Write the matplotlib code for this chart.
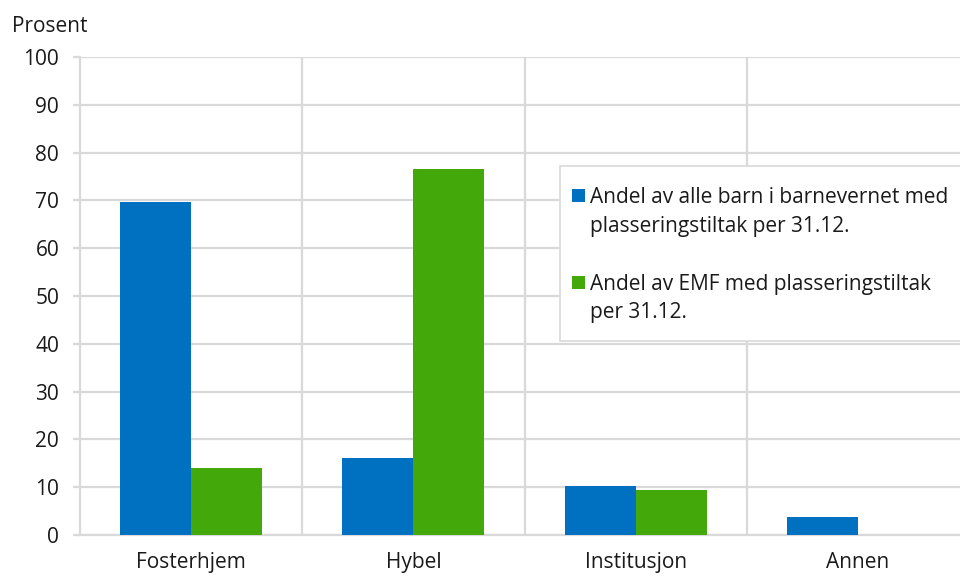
import matplotlib
matplotlib.use("Agg")
import matplotlib.pyplot as plt
from matplotlib.patches import Rectangle
import numpy as np

plt.rcParams['font.family'] = ['Open Sans', 'DejaVu Sans']

categories = ['Fosterhjem', 'Hybel', 'Institusjon', 'Annen']
alle_barn = [69.7, 16.1, 10.3, 3.7]
emf = [14.0, 76.5, 9.4, 0.0]
series_labels = [['Andel av alle barn i barnevernet med', 'plasseringstiltak per 31.12.'],
                 ['Andel av EMF med plasseringstiltak', 'per 31.12.']]
y_ticks = [0, 10, 20, 30, 40, 50, 60, 70, 80, 90, 100]

BLUE = '#0070c0'
GREEN = '#43a809'
GRID = '#d9d9d9'
TXT = '#1a1a1a'
FS = 15

W, H = 960, 576
fig = plt.figure(figsize=(W / 100, H / 100), dpi=100)

# plot area in pixels (right edge runs past the canvas, as in the reference)
left, right, top, bottom = 80, 969, 57, 535
ax = fig.add_axes([left / W, 1 - bottom / H, (right - left) / W, (bottom - top) / H])

x = np.arange(len(categories))
bw = 0.32
ax.bar(x - bw / 2, alle_barn, bw, color=BLUE, zorder=3)
ax.bar(x + bw / 2, emf, bw, color=GREEN, zorder=3)

ax.set_xlim(-0.5, len(categories) - 0.5)
ax.set_ylim(0, 100)
ax.set_yticks(y_ticks)
ax.set_xticks(x)
ax.set_xticklabels(categories)

ax.yaxis.grid(True, color=GRID, linewidth=1.6, zorder=0)
for xv in np.arange(0.5, len(categories), 1.0):
    ax.axvline(xv, color=GRID, linewidth=1.6, zorder=0)

for s in ['top', 'right']:
    ax.spines[s].set_visible(False)
for s in ['left', 'bottom']:
    ax.spines[s].set_color(GRID)
    ax.spines[s].set_linewidth(1.6)
    ax.spines[s].set_zorder(1)

ax.tick_params(axis='y', length=5, width=1.6, color=GRID, pad=10,
               labelsize=FS, labelcolor=TXT)
ax.tick_params(axis='x', length=0, pad=12, labelsize=FS, labelcolor=TXT)

fig.text(12 / W, 1 - 32 / H, 'Prosent', fontsize=FS, color=TXT,
         ha='left', va='baseline')

# legend box, drawn by hand so the squares line up with the first text line
def px(xp, yp):
    return xp / W, 1 - yp / H

lx0, ly0, lx1, ly1 = 560, 166, 975, 341
bx, by = px(lx0, ly1)
fig.patches.append(Rectangle((bx, by), (lx1 - lx0) / W, (ly1 - ly0) / H,
                             transform=fig.transFigure, facecolor='white',
                             edgecolor=GRID, linewidth=1.2, zorder=5))
for col, lines, ytop, bases in [(BLUE, series_labels[0], 189, (203, 232)),
                                (GREEN, series_labels[1], 276, (290, 318))]:
    sx, sy = px(572, ytop + 13)
    fig.patches.append(Rectangle((sx, sy), 13 / W, 13 / H,
                                 transform=fig.transFigure, facecolor=col,
                                 edgecolor='none', zorder=6))
    for line, yb in zip(lines, bases):
        tx, ty = px(590, yb)
        fig.text(tx, ty, line, fontsize=FS, color=TXT, ha='left',
                 va='baseline', zorder=7)

fig.savefig('out.png', dpi=100)
